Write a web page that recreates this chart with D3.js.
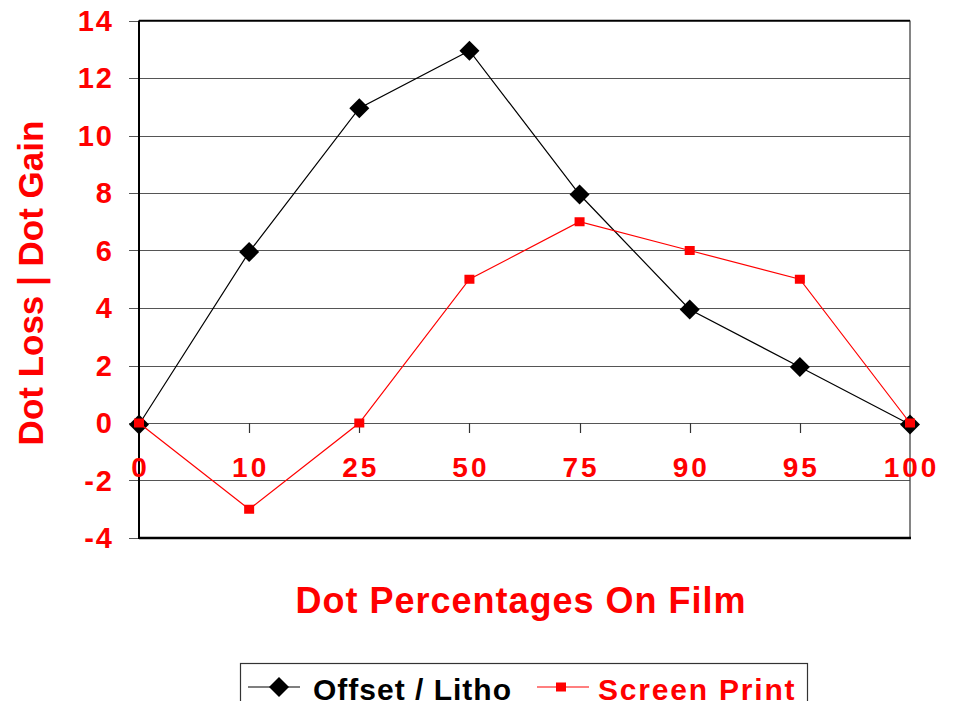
<!DOCTYPE html>
<html>
<head>
<meta charset="utf-8">
<script src="https://cdn.jsdelivr.net/npm/d3@7"></script>
<style>
  body { margin: 0; background: #fff; }
  svg text { font-family: "Liberation Sans", Arial, sans-serif; font-weight: bold; }
</style>
</head>
<body>
<svg id="chart" width="957" height="701"></svg>
<script>
// chart data
var categories = ["0", "10", "25", "50", "75", "90", "95", "100"];
var offsetLitho = [0, 6, 11, 13, 8, 4, 2, 0];
var screenPrint = [0, -3, 0, 5, 7, 6, 5, 0];
var yTicks = [14, 12, 10, 8, 6, 4, 2, 0, -2, -4];

var svg = d3.select("#chart");
var plotLeft = 139, plotRight = 910, plotTop = 20.5, plotBottom = 538;

var x = d3.scalePoint().domain(categories).range([plotLeft, plotRight]).padding(0);
var y = d3.scaleLinear().domain([-4, 14]).range([plotBottom, plotTop]);

// gridlines
svg.append("g").selectAll("line")
  .data(yTicks)
  .enter().append("line")
  .attr("x1", plotLeft - 10).attr("x2", plotRight)
  .attr("y1", function(d) { return Math.round(y(d)) + 0.5; })
  .attr("y2", function(d) { return Math.round(y(d)) + 0.5; })
  .attr("stroke", "#555").attr("stroke-width", 1.2);

// plot frame
svg.append("line").attr("x1", plotRight).attr("x2", plotRight).attr("y1", plotTop).attr("y2", plotBottom)
  .attr("stroke", "#333").attr("stroke-width", 1.2);
svg.append("line").attr("x1", plotLeft).attr("x2", plotRight).attr("y1", plotTop).attr("y2", plotTop)
  .attr("stroke", "#000").attr("stroke-width", 1.5);
svg.append("line").attr("x1", plotLeft).attr("x2", plotRight + 1).attr("y1", plotBottom).attr("y2", plotBottom)
  .attr("stroke", "#000").attr("stroke-width", 2.5);
svg.append("line").attr("x1", plotLeft).attr("x2", plotLeft).attr("y1", plotTop).attr("y2", plotBottom + 1)
  .attr("stroke", "#000").attr("stroke-width", 2);

// x ticks on the zero line
svg.append("g").selectAll("line")
  .data(categories.slice(1, -1))
  .enter().append("line")
  .attr("x1", function(d) { return Math.round(x(d)) + 0.5; })
  .attr("x2", function(d) { return Math.round(x(d)) + 0.5; })
  .attr("y1", y(0)).attr("y2", y(0) + 10)
  .attr("stroke", "#333").attr("stroke-width", 1.2);

// y tick labels
svg.append("g").selectAll("text")
  .data(yTicks)
  .enter().append("text")
  .attr("x", 114)
  .attr("y", function(d) { return y(d) + 10; })
  .attr("text-anchor", "end")
  .attr("fill", "#ff0000")
  .style("font-size", "29px")
  .style("letter-spacing", "2px")
  .text(function(d) { return d; });

// x category labels
svg.append("g").selectAll("text")
  .data(categories)
  .enter().append("text")
  .attr("x", function(d) { return x(d) + 1.5; })
  .attr("y", 477)
  .attr("text-anchor", "middle")
  .attr("fill", "#ff0000")
  .style("font-size", "28px")
  .style("letter-spacing", "3px")
  .text(function(d) { return d; });

// lines
var line = d3.line()
  .x(function(d, i) { return x(categories[i]); })
  .y(function(d) { return y(d); });

// black series sits a touch low in the original rendering
var litho = svg.append("g").attr("transform", "translate(0,1.5)");
litho.append("path").datum(offsetLitho)
  .attr("d", line).attr("fill", "none").attr("stroke", "#000").attr("stroke-width", 1.2);
litho.append("g").selectAll("path")
  .data(offsetLitho)
  .enter().append("path")
  .attr("d", "M0,-10L10,0L0,10L-10,0Z")
  .attr("transform", function(d, i) { return "translate(" + x(categories[i]) + "," + y(d) + ")"; })
  .attr("fill", "#000");

svg.append("path").datum(screenPrint)
  .attr("d", line).attr("fill", "none").attr("stroke", "#ff0000").attr("stroke-width", 1.2);
svg.append("g").selectAll("rect")
  .data(screenPrint)
  .enter().append("rect")
  .attr("x", function(d, i) { return x(categories[i]) - 5; })
  .attr("y", function(d) { return y(d) - 4.5; })
  .attr("width", 10).attr("height", 9)
  .attr("fill", "#ff0000");

// axis titles
svg.append("text")
  .attr("x", 521).attr("y", 613)
  .attr("text-anchor", "middle")
  .attr("fill", "#ff0000")
  .style("font-size", "36px")
  .style("letter-spacing", "1px")
  .text("Dot Percentages On Film");

svg.append("text")
  .attr("transform", "translate(43,283) rotate(-90)")
  .attr("text-anchor", "middle")
  .attr("fill", "#ff0000")
  .style("font-size", "35px")
  .text("Dot Loss | Dot Gain");

// legend
var legend = svg.append("g");
legend.append("rect")
  .attr("x", 240.5).attr("y", 663.5).attr("width", 567).attr("height", 60)
  .attr("fill", "none").attr("stroke", "#333").attr("stroke-width", 1.2);
legend.append("line").attr("x1", 248).attr("x2", 300).attr("y1", 687).attr("y2", 687)
  .attr("stroke", "#000").attr("stroke-width", 1.2);
legend.append("path").attr("d", "M0,-10L10,0L0,10L-10,0Z")
  .attr("transform", "translate(279,687)").attr("fill", "#000");
legend.append("text").attr("x", 313).attr("y", 700)
  .attr("fill", "#000").style("font-size", "30px").style("letter-spacing", "1px").text("Offset / Litho");
legend.append("line").attr("x1", 537).attr("x2", 589).attr("y1", 687).attr("y2", 687)
  .attr("stroke", "#ff0000").attr("stroke-width", 1.2);
legend.append("rect").attr("x", 556).attr("y", 682.5).attr("width", 10).attr("height", 9)
  .attr("fill", "#ff0000");
legend.append("text").attr("x", 598).attr("y", 700)
  .attr("fill", "#ff0000").style("font-size", "30px").style("letter-spacing", "1.8px").text("Screen Print");
</script>
</body>
</html>
